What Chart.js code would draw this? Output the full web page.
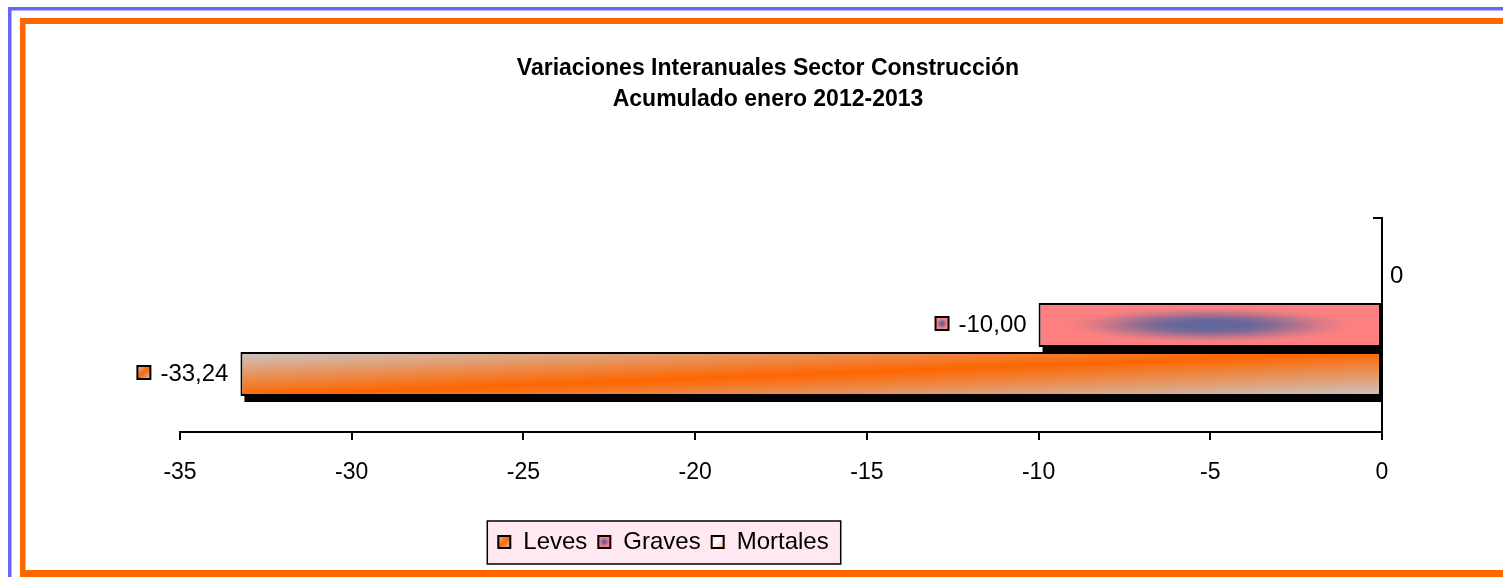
<!DOCTYPE html>
<html>
<head>
<meta charset="utf-8">
<script src="https://cdn.jsdelivr.net/npm/chart.js@4/dist/chart.umd.min.js"></script>
<style>
html, body { margin: 0; padding: 0; background: #fff; overflow: hidden; }
canvas { display: block; }
</style>
</head>
<body>
<canvas id="varChart" width="1503" height="577"></canvas>
<script>
// datos (orden de dibujo: arriba -> abajo)
const categories = [''];
const seriesNames = ['Mortales', 'Graves', 'Leves'];
const mortales = [0];
const graves = [-10.00];
const leves = [-33.24];
const xMin = -35, xMax = 0, xStep = 5;
const titleLines = ['Variaciones Interanuales Sector Construcción', 'Acumulado enero 2012-2013'];

const ORANGE = '#ff6600';
const GRAY = '#cac6c6';
const PINK = [255, 128, 128];
const SLATE = [100, 102, 155];
const fallback = { Mortales: '#ffffff', Graves: '#f88080', Leves: '#f08048' };

Chart.defaults.font.family = "'Liberation Sans', Arial, sans-serif";
Chart.defaults.color = '#000';

function gravesPattern(ctx, l, t, w, h) {
  w = Math.max(1, Math.round(w)); h = Math.max(1, Math.round(h));
  const off = document.createElement('canvas');
  off.width = w; off.height = h;
  const oc = off.getContext('2d');
  const img = oc.createImageData(w, h);
  for (let y = 0; y < h; y++) {
    for (let x = 0; x < w; x++) {
      const u = (x + 0.5 - w / 2) / (w / 2) / 0.9;
      const v = (y + 0.5 - h / 2) / (h / 2) / 0.85;
      const e = Math.sqrt(u * u + v * v);
      let s = Math.min(1, Math.max(0, (e - 0.15) / 0.85));
      s = s * s * (3 - 2 * s);
      const k = (y * w + x) * 4;
      img.data[k] = SLATE[0] + (PINK[0] - SLATE[0]) * s;
      img.data[k + 1] = SLATE[1] + (PINK[1] - SLATE[1]) * s;
      img.data[k + 2] = SLATE[2] + (PINK[2] - SLATE[2]) * s;
      img.data[k + 3] = 255;
    }
  }
  oc.putImageData(img, 0, 0);
  const p = ctx.createPattern(off, 'no-repeat');
  p.setTransform(new DOMMatrix([1, 0, 0, 1, l, t]));
  return p;
}

function makeFill(ctx, name, l, t, w, h) {
  if (name === 'Leves') {
    // bandas diagonales: gris en esquinas, naranja en la diagonal
    const k = 2 * h * w / (h * h + w * w);
    const g = ctx.createLinearGradient(l, t, l + h * k, t + w * k);
    g.addColorStop(0, GRAY);
    g.addColorStop(0.5, ORANGE);
    g.addColorStop(1, GRAY);
    return g;
  }
  if (name === 'Graves') return gravesPattern(ctx, l, t, w, h);
  const g = ctx.createLinearGradient(l, t, l + w, t + h);
  g.addColorStop(0, '#ffd8c0');
  g.addColorStop(0.45, '#ffffff');
  g.addColorStop(1, '#ffb890');
  return g;
}

function barFill(c) {
  const name = c.dataset.label;
  const el = c.element;
  if (!el || el.x === undefined || el.base === undefined || !el.height) return fallback[name];
  const w = Math.abs(el.x - el.base);
  if (w < 1) return fallback[name];
  return makeFill(c.chart.ctx, name, Math.min(el.x, el.base), el.y - el.height / 2, w, el.height);
}

function drawKey(ctx, name, x, y, s) {
  ctx.save();
  ctx.fillStyle = makeFill(ctx, name, x, y, s, s);
  ctx.fillRect(x, y, s, s);
  ctx.lineWidth = 2;
  ctx.strokeStyle = '#000';
  ctx.strokeRect(x, y, s, s);
  ctx.restore();
}

function fmt(v) {
  return v === 0 ? '0' : v.toFixed(2).replace('.', ',');
}

const framePlugin = {
  id: 'frame',
  afterLayout(chart) {
    const t = chart.titleBlock, lg = chart.legend;
    const dt = 768 - (t.left + t.right) / 2;
    t.left += dt; t.right += dt;
    const dl = 663 - (lg.left + lg.right) / 2;
    lg.left += dl; lg.right += dl;
  },
  beforeDraw(chart) {
    const ctx = chart.ctx;
    ctx.save();
    ctx.fillStyle = '#fff';
    ctx.fillRect(0, 0, chart.width, chart.height);
    // marcos
    ctx.fillStyle = '#6666ff';
    ctx.fillRect(8, 7, chart.width, 3.5);
    ctx.fillRect(8, 7, 3.5, chart.height);
    ctx.fillStyle = ORANGE;
    ctx.fillRect(20, 18, chart.width, 6);
    ctx.fillRect(20, 18, 5.5, 559);
    ctx.fillRect(20, 570, chart.width, 7);
    // fondo de la leyenda
    const hb = chart.legend.legendHitBoxes;
    if (hb && hb.length) {
      const first = hb[0], last = hb[hb.length - 1];
      const cy = first.top + first.height / 2;
      const x0 = first.left - 10, x1 = last.left + last.width + 12;
      ctx.fillStyle = '#ffe8f2';
      ctx.fillRect(x0, cy - 21, x1 - x0, 43);
      ctx.lineWidth = 1.5;
      ctx.strokeStyle = '#000';
      ctx.strokeRect(x0, cy - 21, x1 - x0, 43);
    }
    ctx.restore();
  },
  beforeDatasetDraw(chart, args) {
    // sombra de las barras
    const ctx = chart.ctx, a = chart.chartArea;
    ctx.save();
    ctx.beginPath();
    ctx.rect(a.left, a.top, a.right - a.left, a.bottom - a.top);
    ctx.clip();
    ctx.fillStyle = '#000';
    args.meta.data.forEach(el => {
      const p = el.getProps(['x', 'y', 'base', 'height'], true);
      const w = Math.abs(p.x - p.base);
      if (w < 1) return;
      ctx.fillRect(Math.min(p.x, p.base) + 4, p.y - p.height / 2 + 6, w, p.height);
    });
    ctx.restore();
  },
  afterDatasetsDraw(chart) {
    const ctx = chart.ctx;
    ctx.save();
    ctx.font = "24px 'Liberation Sans', Arial, sans-serif";
    ctx.fillStyle = '#000';
    ctx.textBaseline = 'middle';
    chart.data.datasets.forEach((ds, i) => {
      const meta = chart.getDatasetMeta(i);
      meta.data.forEach((el, j) => {
        const v = ds.data[j];
        const txt = fmt(v);
        if (v < 0) {
          const right = el.x - 12;
          const tw = ctx.measureText(txt).width;
          ctx.textAlign = 'right';
          ctx.fillText(txt, right, el.y);
          drawKey(ctx, ds.label, right - tw - 23, el.y - 8, 13);
          ctx.fillStyle = '#000';
        } else {
          ctx.textAlign = 'left';
          ctx.fillText(txt, el.x + 8, el.y);
        }
      });
    });
    ctx.restore();
  },
  afterDraw(chart) {
    const lg = chart.legend;
    const ctx = chart.ctx;
    lg.legendItems.forEach((item, i) => {
      const hb = lg.legendHitBoxes[i];
      drawKey(ctx, item.text, hb.left + 1, hb.top + hb.height / 2 - 6, 12);
    });
  }
};

const barStyle = {
  borderColor: '#000',
  borderWidth: 2,
  borderSkipped: false,
  categoryPercentage: 0.687,
  barPercentage: 0.898,
  backgroundColor: barFill
};

const chart = new Chart(document.getElementById('varChart'), {
  type: 'bar',
  data: {
    labels: categories,
    datasets: [
      Object.assign({ label: seriesNames[0], data: mortales }, barStyle),
      Object.assign({ label: seriesNames[1], data: graves }, barStyle),
      Object.assign({ label: seriesNames[2], data: leves }, barStyle)
    ]
  },
  options: {
    indexAxis: 'y',
    responsive: false,
    animation: false,
    devicePixelRatio: 1,
    events: [],
    layout: { padding: { top: 0, left: 180, right: 121, bottom: 13 } },
    scales: {
      x: {
        type: 'linear',
        min: xMin,
        max: xMax,
        position: 'bottom',
        grid: { drawOnChartArea: false, drawTicks: true, tickLength: 8, color: '#000', lineWidth: 2 },
        border: { display: true, color: '#000', width: 2 },
        ticks: { stepSize: xStep, padding: 18.7, color: '#000', font: { size: 23 }, callback: v => String(v) },
        title: { display: true, text: '', font: { size: 10, lineHeight: '15px' }, padding: 0 }
      },
      y: {
        type: 'category',
        position: { x: 0 },
        offset: true,
        grid: { drawOnChartArea: false, drawTicks: true, tickLength: 8, color: '#000', lineWidth: 2, offset: true },
        border: { display: true, color: '#000', width: 2 },
        ticks: { display: false }
      }
    },
    plugins: {
      title: {
        display: true,
        text: titleLines,
        color: '#000',
        font: { size: 23, weight: 'bold', lineHeight: '31px' },
        padding: { top: 53, bottom: 103 }
      },
      legend: {
        display: true,
        position: 'bottom',
        reverse: true,
        labels: {
          boxWidth: 14,
          boxHeight: 14,
          padding: 10,
          color: '#000',
          font: { size: 24 },
          generateLabels: ch => ch.data.datasets.map((d, i) => ({
            text: d.label,
            fillStyle: 'rgba(0,0,0,0)',
            strokeStyle: 'rgba(0,0,0,0)',
            lineWidth: 0,
            hidden: false,
            datasetIndex: i
          }))
        }
      },
      tooltip: { enabled: false }
    }
  },
  plugins: [framePlugin]
});
// segunda pasada: los rellenos degradados usan la posición ya calculada de cada barra
chart.update();
</script>
</body>
</html>
